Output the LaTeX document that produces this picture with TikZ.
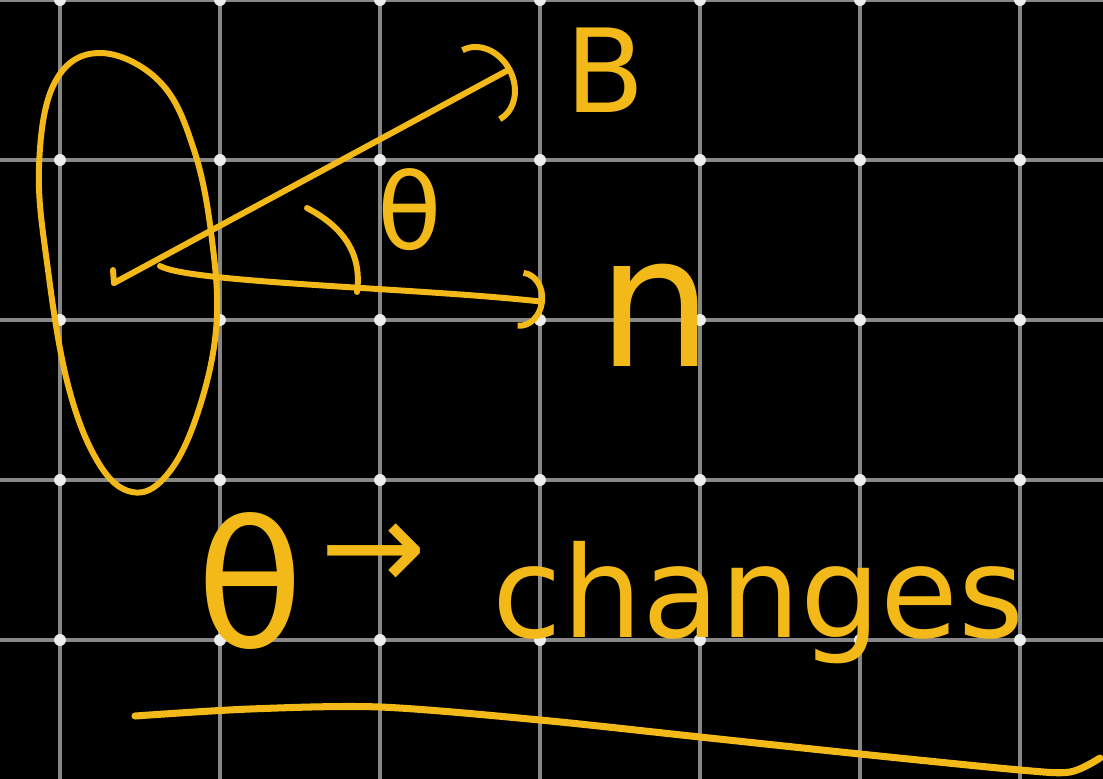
\documentclass[tikz,border=0pt]{standalone}
\usepackage{fontspec}
\setmainfont{DejaVu Sans}
\usetikzlibrary{arrows.meta}

\definecolor{chalk}{RGB}{242,185,25}
\definecolor{gridgrey}{RGB}{135,135,135}

\begin{document}
\begin{tikzpicture}[x=0.01cm, y=-0.01cm, every node/.style={text=chalk, inner sep=0pt}]
  \tikzset{stroke/.style={draw=chalk, line width=1.7pt, line cap=round, line join=round},
    vec/.style={stroke, -{Arc Barb[length=#1, width=2.4*#1, line width=1.7pt]}},
    griddot/.style={circle, fill=white!85!gray, inner sep=1.2pt}}
  \fill[black] (0,0) rectangle (1103,779);
  \useasboundingbox (0,0) rectangle (1103,779);
  \foreach \x in {60,220,...,1020} \draw[gridgrey, line width=0.9pt] (\x,0) -- (\x,779);
  \foreach \y in {0,160,...,640} \draw[gridgrey, line width=0.9pt] (0,\y) -- (1103,\y);
  \foreach \x in {60,220,...,1020} \foreach \y in {0,160,...,640} \node[griddot] at (\x,\y) {};

  % loop
  \draw[stroke] plot[smooth cycle, tension=0.65] coordinates {(100,53) (55,82) (39,167) (48,270) (68,385) (98,462) (132,492) (166,476) (196,418) (216,330) (212,240) (194,150) (160,82)};

  % vectors
  \coordinate (o) at (114,283);
  \coordinate (btip) at (512,68);
  \coordinate (nstart) at (160,266);
  \coordinate (ntip) at (545,302);
  \draw[stroke] (113,270) -- (o);
  \draw[vec=10pt] (o) -- (btip);
  \draw[vec=7pt] (nstart) .. controls (190,283) and (420,288) .. (ntip);
  \draw[stroke] (307,208) .. controls (345,228) and (362,255) .. (357,292);

  \node[font=\fontsize{33}{33}\selectfont] (B) at (605,70) {B};
  \node[font=\fontsize{52}{52}\selectfont] (n) at (655,315) {n};
  \node[font=\fontsize{30}{30}\selectfont] (theta) at (410,210) {θ};

  % caption
  \node[font=\fontsize{50}{50}\selectfont] (thetabig) at (250,581) {θ};
  \node[font=\fontsize{36}{36}\selectfont] (to) at (374,557) {→};
  \node[font=\fontsize{36}{36}\selectfont, anchor=base west] (changes) at (492,637) {changes};
  \draw[stroke, line width=2pt] plot[smooth] coordinates {(135,716) (250,709) (380,707) (540,720) (700,737) (860,754) (1020,770) (1070,772) (1100,758)};
\end{tikzpicture}
\end{document}
